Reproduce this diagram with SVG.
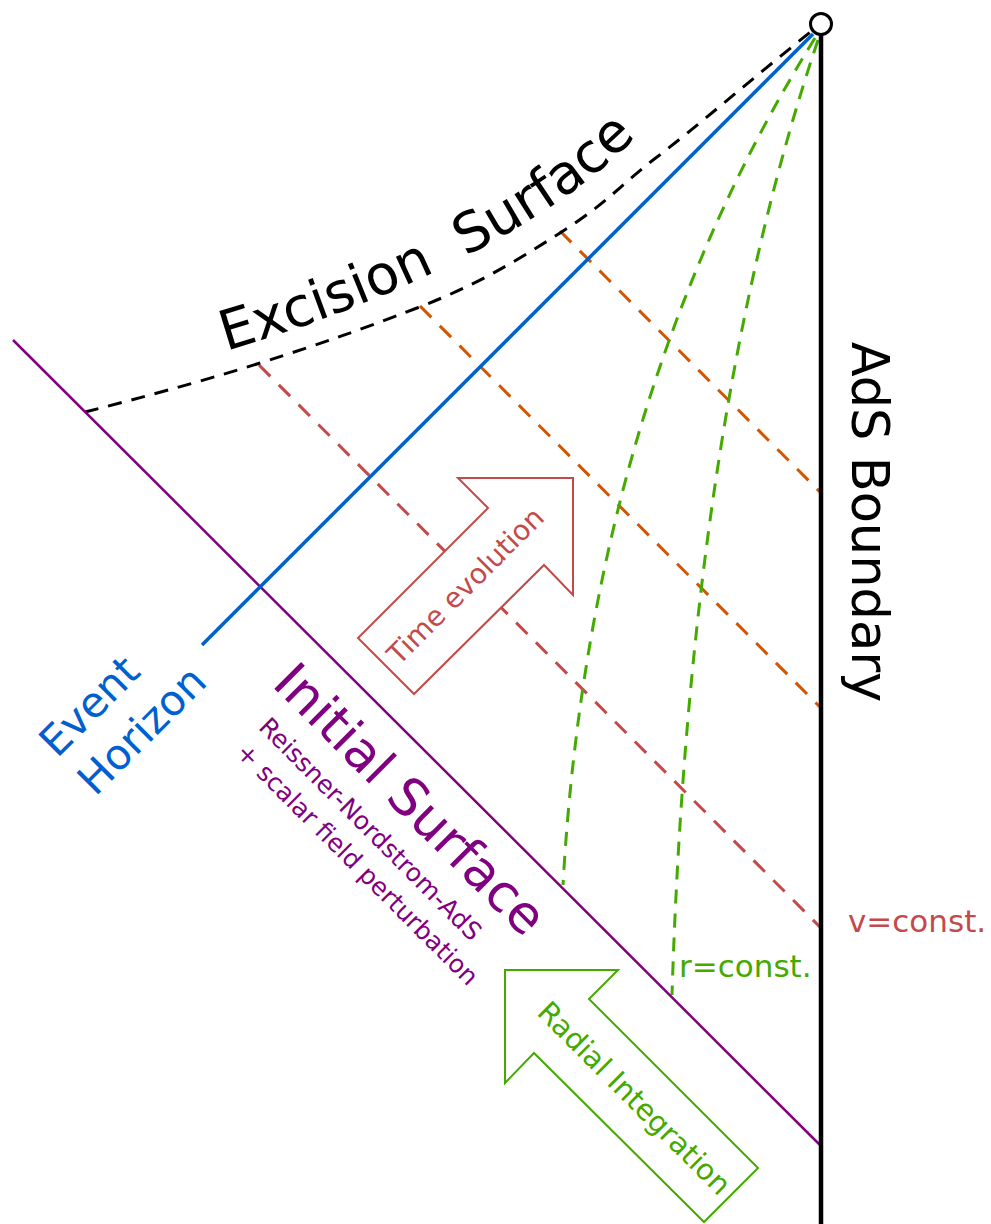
<svg xmlns="http://www.w3.org/2000/svg" xmlns:xlink="http://www.w3.org/1999/xlink" width="991" height="1224" viewBox="0 0 991 1224">
<style>
text{font-family:"DejaVu Sans","Liberation Sans",sans-serif}
.dash{fill:none;stroke-width:3}
.red{stroke:#c44a4a}
.orange{stroke:#d45500}
.green{stroke:#44aa00}
.blk{stroke:#000}
</style>
<defs>
<path id="exText" d="M226,351 C330,320 430,280 520,226 S640,132 700,72"/>
</defs>
<rect width="991" height="1224" fill="#fff"/>
<g id="connectors">
<path class="dash orange" stroke-dasharray="16,12" d="M560,231 L821,493"/>
<path class="dash orange" stroke-dasharray="16,12" d="M420,306 L821,708"/>
<path class="dash red" stroke-dasharray="16,12" d="M259,365 L821,928"/>
<path class="dash green" stroke-dasharray="14,10" d="M815,38 Q590,400 563,885"/>
<path class="dash green" stroke-dasharray="14,10" d="M818,40 Q690,420 672,995"/>
<path class="dash blk" stroke-dasharray="14,10" d="M85,412 C140,398 200,382 260,363 S360,330 417,308 S510,265 560,233 S620,185 657,157 S760,72 813,30"/>
<path fill="none" stroke="#800080" stroke-width="2.5" d="M13,340 L821,1146"/>
<path fill="none" stroke="#0060d0" stroke-width="3.5" d="M202,645 L813,34"/>
<path fill="none" stroke="#000" stroke-width="4.5" d="M821,35 L821,1224"/>
</g>
<g id="boundary-point"><circle cx="821" cy="24" r="10.5" fill="#fff" stroke="#000" stroke-width="3"/></g>
<g id="time-evolution">
<polygon points="458,478 573,478 573,595 544,565 414,694 358,638 488,508" fill="#fff" stroke="#c44a4a" stroke-width="2"/>
<text transform="rotate(-45)" x="-85" y="753" font-size="28" fill="#c44a4a" text-anchor="middle">Time evolution</text>
</g>
<g id="radial-integration">
<polygon points="505,970 618,970 589,999 758,1168 704,1222 534,1053 505,1083" fill="#fff" stroke="#44aa00" stroke-width="2"/>
<text transform="rotate(45)" x="1225" y="338" font-size="29" fill="#44aa00" text-anchor="middle">Radial Integration</text>
</g>
<g id="excision-label">
<text font-size="55" fill="#000" word-spacing="16"><textPath xlink:href="#exText" href="#exText" startOffset="0">Excision Surface</textPath></text>
</g>
<g id="ads-boundary-label">
<text transform="translate(852,522) rotate(90)" font-size="51" fill="#000" text-anchor="middle">AdS Boundary</text>
</g>
<g id="event-horizon-label">
<text transform="translate(57,759) rotate(-45)" font-size="42" fill="#0060d0"><tspan x="0" y="0">Event</tspan><tspan x="0" y="54">Horizon</tspan></text>
</g>
<g id="initial-surface-label">
<text transform="rotate(45)" x="676" y="293" font-size="52" fill="#800080">Initial Surface</text>
<text transform="rotate(45)" font-size="25" fill="#800080"><tspan x="697" y="333">Reissner-Nordstrom-AdS</tspan><tspan x="699" y="367">+ scalar field perturbation</tspan></text>
</g>
<g id="const-labels">
<text x="679" y="977" font-size="31" fill="#44aa00">r=const.</text>
<text x="848" y="932" font-size="31" fill="#c44a4a">v=const.</text>
</g>
</svg>
